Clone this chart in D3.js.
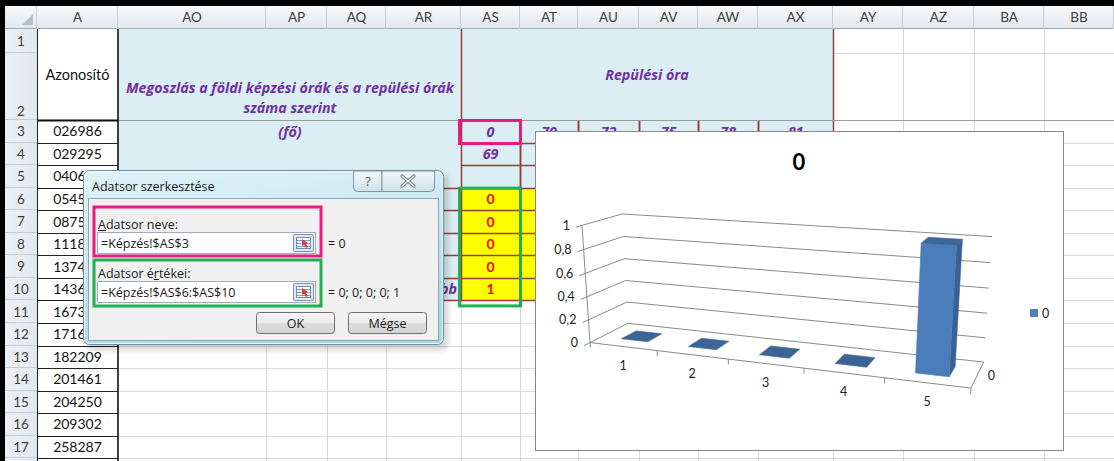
<!DOCTYPE html>
<html lang="hu">
<head>
<meta charset="utf-8">
<title>Adatsor szerkesztése – 3D oszlopdiagram</title>
<script src="https://cdn.jsdelivr.net/npm/d3@7/dist/d3.min.js"></script>
<style>
  html, body { margin: 0; padding: 0; background: #fff; }
  svg { display: block; font-family: Lato, "Open Sans", sans-serif; }
</style>
</head>
<body>
<svg id="sheet" width="1114" height="461"></svg>
<script>
// ---------- chart data ----------
const categories = ["1", "2", "3", "4", "5"];
const values = [0, 0, 0, 0, 1];
const seriesName = "0";
const chartTitle = "0";
const valueTicks = [0, 0.2, 0.4, 0.6, 0.8, 1];
const depthCategories = ["0"];

// ---------- worksheet content ----------
const columnNames = ["A", "AO", "AP", "AQ", "AR", "AS", "AT", "AU", "AV", "AW", "AX", "AY", "AZ", "BA", "BB"];
const rowNumbers = d3.range(1, 18);
const ids = ["026986", "029295", "040631", "054512", "087533", "111845", "137421", "143608",
             "167319", "171602", "182209", "201461", "204250", "209302", "258287"];
const binStarts = ["0", "70", "72", "75", "78", "81"];   // AS3:AX3
const firstBinEnd = "69";                               // AS4
const headerTitle = ["Megoszlás a földi képzési órák és a repülési órák", "száma szerint"];
const unitLabel = "(fő)";
const flightHeader = "Repülési óra";
const lastBinLabel = "több";
const seriesNameRef = "=Képzés!$AS$3";
const seriesValuesRef = "=Képzés!$AS$6:$AS$10";

// ---------- layout ----------
const W = 1114, H = 461;
const colEdges = {
  hdr: [5, 37], A: [37, 118], AO: [118, 266], AP: [266, 327], AQ: [327, 386], AR: [386, 461],
  AS: [461, 520], AT: [520, 578], AU: [578, 639], AV: [639, 698], AW: [698, 758], AX: [758, 833],
  AY: [833, 903], AZ: [903, 974], BA: [974, 1044], BB: [1044, 1114]
};
const headerTop = 6, headerBottom = 29, rowH = 22.55;
const rowTop = r => r === 1 ? 29 : r === 2 ? 53 : 120 + (r - 3) * rowH;
const rowMid = r => (rowTop(r) + rowTop(r + 1)) / 2;
const colMid = c => (colEdges[c][0] + colEdges[c][1]) / 2;

const purple = "#7030a0", darkRed = "#9b3b36", grid = "#d9d9d9", lightBlue = "#daeef3";
const hu = d3.formatLocale({ decimal: ",", thousands: " ", grouping: [3], currency: ["", " Ft"] });
const fmt = hu.format("~g");

const svg = d3.select("#sheet");
const defs = svg.append("defs");
const hdrGrad = defs.append("linearGradient").attr("id", "hdrGrad").attr("x1", 0).attr("y1", 0).attr("x2", 0).attr("y2", 1);
hdrGrad.append("stop").attr("offset", 0).attr("stop-color", "#f7f9fb");
hdrGrad.append("stop").attr("offset", 1).attr("stop-color", "#e2e7ed");
const rowGrad = defs.append("linearGradient").attr("id", "rowGrad").attr("x1", 0).attr("y1", 0).attr("x2", 1).attr("y2", 0);
rowGrad.append("stop").attr("offset", 0).attr("stop-color", "#eef1f5");
rowGrad.append("stop").attr("offset", 1).attr("stop-color", "#e3e8ee");
const glass = defs.append("linearGradient").attr("id", "glass").attr("x1", 0).attr("y1", 0).attr("x2", 0.3).attr("y2", 1);
glass.append("stop").attr("offset", 0).attr("stop-color", "#e0f2f8");
glass.append("stop").attr("offset", 0.5).attr("stop-color", "#c9e8f1");
glass.append("stop").attr("offset", 1).attr("stop-color", "#a9d9e6");
const btnGrad = defs.append("linearGradient").attr("id", "btnGrad").attr("x1", 0).attr("y1", 0).attr("x2", 0).attr("y2", 1);
btnGrad.append("stop").attr("offset", 0).attr("stop-color", "#f6f6f6");
btnGrad.append("stop").attr("offset", 0.5).attr("stop-color", "#ebebeb");
btnGrad.append("stop").attr("offset", 0.51).attr("stop-color", "#dddddd");
btnGrad.append("stop").attr("offset", 1).attr("stop-color", "#d3d3d3");
const capGrad = defs.append("linearGradient").attr("id", "capGrad").attr("x1", 0).attr("y1", 0).attr("x2", 0).attr("y2", 1);
capGrad.append("stop").attr("offset", 0).attr("stop-color", "#f2f8fb");
capGrad.append("stop").attr("offset", 1).attr("stop-color", "#cfe2ea");
defs.append("filter").attr("id", "soft").attr("x", -0.1).attr("y", -0.1).attr("width", 1.2).attr("height", 1.3)
  .append("feGaussianBlur").attr("stdDeviation", 3);

// ---------- worksheet ----------
svg.append("rect").attr("width", W).attr("height", H).attr("fill", "#fff");
const sheet = svg.append("g");

// gridlines
const gridCols = Object.keys(colEdges).filter(k => k !== "hdr" && k !== "A");
gridCols.forEach(c => {
  sheet.append("line").attr("x1", colEdges[c][1] + 0.5).attr("x2", colEdges[c][1] + 0.5)
    .attr("y1", headerBottom).attr("y2", H).attr("stroke", grid);
});
d3.range(1, 19).forEach(r => {
  sheet.append("line").attr("x1", 118).attr("x2", W).attr("y1", Math.round(rowTop(r + 1)) + 0.5)
    .attr("y2", Math.round(rowTop(r + 1)) + 0.5).attr("stroke", grid);
});

// fills
sheet.append("rect").attr("x", 118).attr("y", 29).attr("width", 461 - 118).attr("height", rowTop(11) - 29).attr("fill", lightBlue);
sheet.append("rect").attr("x", 461).attr("y", 29).attr("width", 833 - 461).attr("height", rowTop(6) - 29).attr("fill", lightBlue);
sheet.append("rect").attr("x", 461).attr("y", rowTop(6)).attr("width", 833 - 461).attr("height", rowTop(11) - rowTop(6)).attr("fill", "#ffff00");
sheet.append("rect").attr("x", 37).attr("y", 29).attr("width", 81).attr("height", H - 29).attr("fill", "#fff");

// row 2 bottom rule
sheet.append("line").attr("x1", 118).attr("x2", W).attr("y1", 120.5).attr("y2", 120.5).attr("stroke", "#9c9c9c");

// dark red table borders
[461, 833].forEach(x => sheet.append("line").attr("x1", x + 0.5).attr("x2", x + 0.5).attr("y1", 29).attr("y2", 120).attr("stroke", darkRed).attr("stroke-width", 1.5));
["AS", "AT", "AU", "AV", "AW", "AX"].forEach(c => {
  [colEdges[c][0], colEdges[c][1]].forEach(x => sheet.append("line").attr("x1", x + 0.5).attr("x2", x + 0.5)
    .attr("y1", 121).attr("y2", rowTop(11) + 1).attr("stroke", darkRed).attr("stroke-width", 1.5));
});
d3.range(4, 12).forEach(r => {
  const y = Math.round(rowTop(r)) + 0.5;
  sheet.append("line").attr("x1", r >= 6 ? 118 : 461).attr("x2", 833).attr("y1", y).attr("y2", y)
    .attr("stroke", darkRed).attr("stroke-width", 1.5);
});

// column A borders (black)
sheet.append("line").attr("x1", 37.5).attr("x2", 37.5).attr("y1", 29).attr("y2", H).attr("stroke", "#222");
sheet.append("line").attr("x1", 118).attr("x2", 118).attr("y1", 29).attr("y2", H).attr("stroke", "#111").attr("stroke-width", 1.6);
sheet.append("line").attr("x1", 37).attr("x2", 118).attr("y1", 120.5).attr("y2", 120.5).attr("stroke", "#111").attr("stroke-width", 2);
d3.range(4, 19).forEach(r => {
  const y = Math.round(rowTop(r)) + 0.5;
  sheet.append("line").attr("x1", 37).attr("x2", 118).attr("y1", y).attr("y2", y).attr("stroke", "#222");
});

// header row
sheet.append("rect").attr("x", 0).attr("y", headerTop).attr("width", W).attr("height", headerBottom - headerTop).attr("fill", "url(#hdrGrad)");
sheet.append("line").attr("x1", 0).attr("x2", W).attr("y1", headerBottom - 0.5).attr("y2", headerBottom - 0.5).attr("stroke", "#9eabb8");
Object.keys(colEdges).forEach(c => {
  const x = colEdges[c][1] - 0.5;
  sheet.append("line").attr("x1", x).attr("x2", x).attr("y1", headerTop).attr("y2", headerBottom).attr("stroke", "#c5ccd4");
});
columnNames.forEach(c => {
  sheet.append("text").attr("x", colMid(c)).attr("y", (headerTop + headerBottom) / 2).attr("dy", "0.36em")
    .attr("text-anchor", "middle").attr("font-size", 13.5).attr("fill", "#3d3d3d").text(c);
});
// select-all corner
sheet.append("path").attr("d", "M33,14 L33,25 L22,25 Z").attr("fill", "#b7bec6");

// row header column
sheet.append("rect").attr("x", 0).attr("y", headerBottom).attr("width", 37).attr("height", H - headerBottom).attr("fill", "url(#rowGrad)");
rowNumbers.forEach(r => {
  const y = Math.round(rowTop(r + 1)) - 0.5;
  sheet.append("line").attr("x1", 5).attr("x2", 37).attr("y1", y).attr("y2", y).attr("stroke", "#c5ccd4");
  sheet.append("text").attr("x", 21).attr("y", r === 2 ? 111 : rowMid(r)).attr("dy", "0.36em")
    .attr("text-anchor", "middle").attr("font-size", 13.5).attr("fill", "#3d3d3d").text(r);
});

// column A content
sheet.append("text").attr("x", colMid("A")).attr("y", 75).attr("dy", "0.36em").attr("text-anchor", "middle")
  .attr("font-size", 14.5).attr("fill", "#111").text("Azonosító");
ids.forEach((id, i) => {
  sheet.append("text").attr("x", colMid("A")).attr("y", rowMid(i + 3)).attr("dy", "0.36em").attr("text-anchor", "middle")
    .attr("font-size", 14).attr("fill", "#111").text(id);
});

// purple headings
const purpleText = (x, y, t, anchor = "middle") => sheet.append("text").attr("x", x).attr("y", y).attr("dy", "0.36em")
  .attr("text-anchor", anchor).attr("font-family", "'Open Sans', Lato, sans-serif")
  .attr("font-size", 14.3).attr("font-weight", 700).attr("font-style", "italic")
  .attr("fill", purple).text(t);
purpleText(290, 88, headerTitle[0]);
purpleText(290, 108, headerTitle[1]);
purpleText(290, rowMid(3) + 0.5, unitLabel);
purpleText(647, 75, flightHeader);
["AS", "AT", "AU", "AV", "AW", "AX"].forEach((c, i) => purpleText(colMid(c), rowMid(3) + 0.5, binStarts[i]));
purpleText(colMid("AS"), rowMid(4), firstBinEnd);
purpleText(457, rowMid(10), lastBinLabel, "end");

// series values in the yellow cells
values.forEach((v, i) => {
  sheet.append("text").attr("x", colMid("AS")).attr("y", rowMid(i + 6)).attr("dy", "0.36em").attr("text-anchor", "middle")
    .attr("font-size", 14).attr("font-weight", 700).attr("fill", "#ff0000").text(fmt(v));
});

// highlight frames
sheet.append("rect").attr("x", 459.5).attr("y", 120.5).attr("width", 61).attr("height", 23)
  .attr("fill", "none").attr("stroke", "#ea1a7f").attr("stroke-width", 3);
sheet.append("rect").attr("x", 459.5).attr("y", rowTop(6) + 0.5).attr("width", 61).attr("height", rowTop(11) - rowTop(6) + 5)
  .attr("fill", "none").attr("stroke", "#1fb04f").attr("stroke-width", 3);

// window frame
svg.append("rect").attr("x", 0).attr("y", 0).attr("width", W).attr("height", 6).attr("fill", "#000");
svg.append("rect").attr("x", 0).attr("y", 0).attr("width", 5).attr("height", H).attr("fill", "#000");

// ---------- 3-D column chart ----------
const chart = svg.append("g");
chart.append("rect").attr("x", 535.5).attr("y", 131.5).attr("width", 528).attr("height", 319)
  .attr("fill", "#fff").attr("stroke", "#878787");
chart.append("text").attr("x", 799).attr("y", 162).attr("dy", "0.36em").attr("text-anchor", "middle")
  .attr("font-size", 22).attr("font-weight", 700).attr("fill", "#000").text(chartTitle);

// world scales: categories along x, values along y, series along z
const xScale = d3.scaleBand().domain(categories).range([0, 5]).paddingInner(0).paddingOuter(0);
const yScale = d3.scaleLinear().domain([0, 1]).range([0, 1]);
const zScale = d3.scaleBand().domain(depthCategories).range([0, 1]);

// perspective camera solved from the screen anchors of the plot box
// (world x, y, z  ->  screen u, v)
const boxAnchors = [
  [0, 0, 0, 591, 343], [5, 0, 0, 972, 388], [0, 0, 1, 627, 323], [5, 0, 1, 984, 362],
  [0, 1, 0, 581, 225], [0, 1, 1, 623, 214], [5, 1, 1, 992, 237],
  [1, 0, 0, 657, 350.8], [2, 0, 0, 729, 359.3], [3, 0, 0, 804, 368.1], [4, 0, 0, 883, 377.4]
];
function fitProjection(anchors) {
  const cu = 780, cv = 300, s = 200;
  const rows = [], rhs = [];
  anchors.forEach(([x, y, z, u0, v0]) => {
    const u = (u0 - cu) / s, v = (v0 - cv) / s;
    rows.push([x, y, z, 1, 0, 0, 0, 0, -u * x, -u * y, -u * z]); rhs.push(u);
    rows.push([0, 0, 0, 0, x, y, z, 1, -v * x, -v * y, -v * z]); rhs.push(v);
  });
  const n = 11;
  const N = d3.range(n).map(() => new Array(n + 1).fill(0));
  rows.forEach((r, k) => {
    for (let i = 0; i < n; i++) {
      for (let j = 0; j < n; j++) N[i][j] += r[i] * r[j];
      N[i][n] += r[i] * rhs[k];
    }
  });
  for (let c = 0; c < n; c++) {
    let piv = c;
    for (let r = c + 1; r < n; r++) if (Math.abs(N[r][c]) > Math.abs(N[piv][c])) piv = r;
    [N[c], N[piv]] = [N[piv], N[c]];
    for (let r = 0; r < n; r++) {
      if (r === c) continue;
      const f = N[r][c] / N[c][c];
      for (let k = c; k <= n; k++) N[r][k] -= f * N[c][k];
    }
  }
  const p = N.map((row, i) => row[n] / row[i]);
  const project = (x, y, z) => {
    const w = p[8] * x + p[9] * y + p[10] * z + 1;
    return [cu + s * (p[0] * x + p[1] * y + p[2] * z + p[3]) / w,
            cv + s * (p[4] * x + p[5] * y + p[6] * z + p[7]) / w];
  };
  const M = [[p[0], p[1], p[2]], [p[4], p[5], p[6]], [p[8], p[9], p[10]]];
  const t = [p[3], p[7], 1];
  const det = m => m[0][0] * (m[1][1] * m[2][2] - m[1][2] * m[2][1])
                 - m[0][1] * (m[1][0] * m[2][2] - m[1][2] * m[2][0])
                 + m[0][2] * (m[1][0] * m[2][1] - m[1][1] * m[2][0]);
  const D = det(M);
  const camera = [0, 1, 2].map(col => det(M.map((row, i) => row.map((v, j) => j === col ? -t[i] : v))) / D);
  return { project, camera };
}
const { project, camera } = fitProjection(boxAnchors);
const line3 = d3.line();
const path3 = pts => line3(pts.map(q => project(...q)));
const X0 = 0, X1 = xScale.range()[1], Z0 = 0, Z1 = 1;

// gridlines on the side and back walls, with tick stubs
valueTicks.forEach(v => {
  const y = yScale(v);
  chart.append("path").attr("d", path3([[X0, y, -0.14], [X0, y, Z0], [X0, y, Z1], [X1, y, Z1]]))
    .attr("fill", "none").attr("stroke", "#8a8a8a").attr("stroke-width", 1);
  const [lx, ly] = project(X0, y, Z0);
  chart.append("text").attr("x", lx - 12).attr("y", ly).attr("dy", "0.36em").attr("text-anchor", "end")
    .attr("font-size", 12.5).attr("fill", "#222").text(fmt(v));
});
// value axis and floor edges
chart.append("path").attr("d", path3([[X0, 0, Z0], [X0, 1, Z0]])).attr("fill", "none").attr("stroke", "#8a8a8a");
chart.append("path").attr("d", path3([[X0, 0, Z0], [X1, 0, Z0], [X1, 0, Z1]])).attr("fill", "none").attr("stroke", "#8a8a8a");
d3.range(0, categories.length + 1).forEach(k => {
  const x = k * xScale.bandwidth();
  chart.append("path").attr("d", path3([[x, 0, Z0], [x, -0.045, Z0]])).attr("fill", "none").attr("stroke", "#8a8a8a");
});
categories.forEach(c => {
  const [lx, ly] = project(xScale(c) + xScale.bandwidth() / 2, 0, Z0);
  chart.append("text").attr("x", lx).attr("y", ly + 19).attr("dy", "0.36em").attr("text-anchor", "middle")
    .attr("font-size", 12.5).attr("fill", "#222").text(c);
});
depthCategories.forEach(d => {
  const [lx, ly] = project(X1, 0, zScale(d) + zScale.bandwidth() / 2);
  chart.append("text").attr("x", lx + 10).attr("y", ly + 1).attr("dy", "0.36em").attr("text-anchor", "start")
    .attr("font-size", 12.5).attr("fill", "#222").text(d);
});

// columns
const faceColor = { front: "#4a7dba", back: "#4a7dba", left: "#5285c2", right: "#3a6194", top: "#3d679d" };
values.forEach((v, i) => {
  const c = categories[i];
  const bw = xScale.bandwidth();
  const x0 = xScale(c) + bw * 0.3, x1 = xScale(c) + bw * 0.7;
  const zb = zScale(depthCategories[0]), zw = zScale.bandwidth();
  const z0 = zb + zw * 0.3, z1 = zb + zw * 0.7;
  const y0 = yScale(0), y1 = yScale(v);
  const faces = [
    { k: "back",  pts: [[x0, y0, z1], [x1, y0, z1], [x1, y1, z1], [x0, y1, z1]], vis: camera[2] > z1 },
    { k: "left",  pts: [[x0, y0, z0], [x0, y0, z1], [x0, y1, z1], [x0, y1, z0]], vis: camera[0] < x0 },
    { k: "right", pts: [[x1, y0, z0], [x1, y0, z1], [x1, y1, z1], [x1, y1, z0]], vis: camera[0] > x1 },
    { k: "front", pts: [[x0, y0, z0], [x1, y0, z0], [x1, y1, z0], [x0, y1, z0]], vis: camera[2] < z0 },
    { k: "top",   pts: [[x0, y1, z0], [x1, y1, z0], [x1, y1, z1], [x0, y1, z1]], vis: camera[1] > y1 }
  ];
  faces.filter(f => f.vis && (f.k === "top" || y1 > y0)).forEach(f => {
    const col = y1 > y0 ? faceColor[f.k] : "#3c6596";
    chart.append("path").attr("d", path3(f.pts) + "Z").attr("fill", col).attr("stroke", col).attr("stroke-width", 0.6);
  });
});

// legend
chart.append("rect").attr("x", 1030).attr("y", 309).attr("width", 8).attr("height", 8).attr("fill", "#4f81bd");
chart.append("text").attr("x", 1042).attr("y", 313.5).attr("dy", "0.36em").attr("font-size", 12.5).attr("fill", "#222").text(seriesName);

// ---------- "Adatsor szerkesztése" dialog ----------
const dlg = svg.append("g").attr("font-family", "'Open Sans', 'Noto Sans', sans-serif");
dlg.append("rect").attr("x", 86).attr("y", 174).attr("width", 362).attr("height", 176).attr("rx", 7)
  .attr("fill", "#000").attr("opacity", 0.18).attr("filter", "url(#soft)");
dlg.append("rect").attr("x", 83.5).attr("y", 170.5).attr("width", 360).attr("height", 174).attr("rx", 6)
  .attr("fill", "url(#glass)").attr("stroke", "#6c8da3");
dlg.append("rect").attr("x", 84.5).attr("y", 171.5).attr("width", 358).attr("height", 172).attr("rx", 5)
  .attr("fill", "none").attr("stroke", "#f4fbfd").attr("opacity", 0.8);
dlg.append("text").attr("x", 92).attr("y", 186).attr("dy", "0.36em").attr("font-size", 12.5).attr("fill", "#1b1b1b")
  .text("Adatsor szerkesztése");
// caption buttons
dlg.append("path").attr("d", "M353.5,171 V187.5 Q353.5,191.5 357.5,191.5 H382 V171 Z").attr("fill", "url(#capGrad)").attr("stroke", "#7f97a6");
dlg.append("path").attr("d", "M382,171 V191.5 H430.5 Q434.5,191.5 434.5,187.5 V171 Z").attr("fill", "url(#capGrad)").attr("stroke", "#7f97a6");
dlg.append("text").attr("x", 368).attr("y", 181).attr("dy", "0.36em").attr("text-anchor", "middle")
  .attr("font-size", 13).attr("fill", "#5a5a5a").text("?");
[[402, 176, 414, 186], [414, 176, 402, 186]].forEach(([a, b, c2, d]) => {
  dlg.append("line").attr("x1", a).attr("y1", b).attr("x2", c2).attr("y2", d).attr("stroke", "#7d7d7d").attr("stroke-width", 3.4).attr("stroke-linecap", "round");
});
[[402, 176, 414, 186], [414, 176, 402, 186]].forEach(([a, b, c2, d]) => {
  dlg.append("line").attr("x1", a).attr("y1", b).attr("x2", c2).attr("y2", d).attr("stroke", "#efefef").attr("stroke-width", 1.2).attr("stroke-linecap", "round");
});
// client area
dlg.append("rect").attr("x", 88.5).attr("y", 198.5).attr("width", 350).attr("height", 142)
  .attr("fill", "#f0f0f0").attr("stroke", "#8ea6b6");

function field(y, label, underlineIdx, ref, result) {
  const lab = dlg.append("text").attr("x", 98).attr("y", y).attr("dy", "0.36em").attr("font-size", 12.5).attr("fill", "#1b1b1b").text(label);
  const node = lab.node();
  const ux0 = 98 + (underlineIdx ? node.getSubStringLength(0, underlineIdx) : 0);
  const ux1 = ux0 + node.getSubStringLength(underlineIdx, 1);
  dlg.append("line").attr("x1", ux0).attr("x2", ux1).attr("y1", y + 6.5).attr("y2", y + 6.5).attr("stroke", "#1b1b1b");
  dlg.append("rect").attr("x", 97.5).attr("y", y + 8.5).attr("width", 218).attr("height", 21).attr("fill", "#fff").attr("stroke", "#a3abb5");
  dlg.append("text").attr("x", 101).attr("y", y + 19).attr("dy", "0.36em").attr("font-size", 12.5).attr("fill", "#1b1b1b").text(ref);
  // range selector button
  dlg.append("rect").attr("x", 293.5).attr("y", y + 10.5).attr("width", 20).attr("height", 17).attr("rx", 1.5)
    .attr("fill", "#dfe7f1").attr("stroke", "#7e8fa3");
  dlg.append("rect").attr("x", 296.5).attr("y", y + 13.5).attr("width", 14).attr("height", 11).attr("fill", "#f7f9fc").attr("stroke", "#6f8db8");
  [0, 1, 2].forEach(k => dlg.append("line").attr("x1", 297).attr("x2", 310).attr("y1", y + 16.5 + k * 3).attr("y2", y + 16.5 + k * 3).attr("stroke", "#7c9ccc"));
  dlg.append("path").attr("d", `M302,${y + 15} l6,4 l-2,1 l2,3 l-2,1 l-2,-3 l-2,1 Z`).attr("fill", "#d2463a");
  dlg.append("text").attr("x", 328).attr("y", y + 19).attr("dy", "0.36em").attr("font-size", 12.5).attr("fill", "#1b1b1b").text(result);
}
field(224, "Adatsor neve:", 0, seriesNameRef, "= " + seriesName);
field(273, "Adatsor értékei:", 9, seriesValuesRef, "= " + values.map(fmt).join("; "));

dlg.append("rect").attr("x", 94).attr("y", 207).attr("width", 227).attr("height", 49)
  .attr("fill", "none").attr("stroke", "#ea1a7f").attr("stroke-width", 3);
dlg.append("rect").attr("x", 94).attr("y", 260).attr("width", 227).attr("height", 46)
  .attr("fill", "none").attr("stroke", "#1fb04f").attr("stroke-width", 3);

[["OK", 256.5], ["Mégse", 348.5]].forEach(([t, x]) => {
  dlg.append("rect").attr("x", x).attr("y", 312.5).attr("width", 78).attr("height", 21).attr("rx", 3)
    .attr("fill", "url(#btnGrad)").attr("stroke", "#707070");
  dlg.append("text").attr("x", x + 39).attr("y", 323).attr("dy", "0.36em").attr("text-anchor", "middle")
    .attr("font-size", 12.5).attr("fill", "#1b1b1b").text(t);
});
</script>
</body>
</html>
